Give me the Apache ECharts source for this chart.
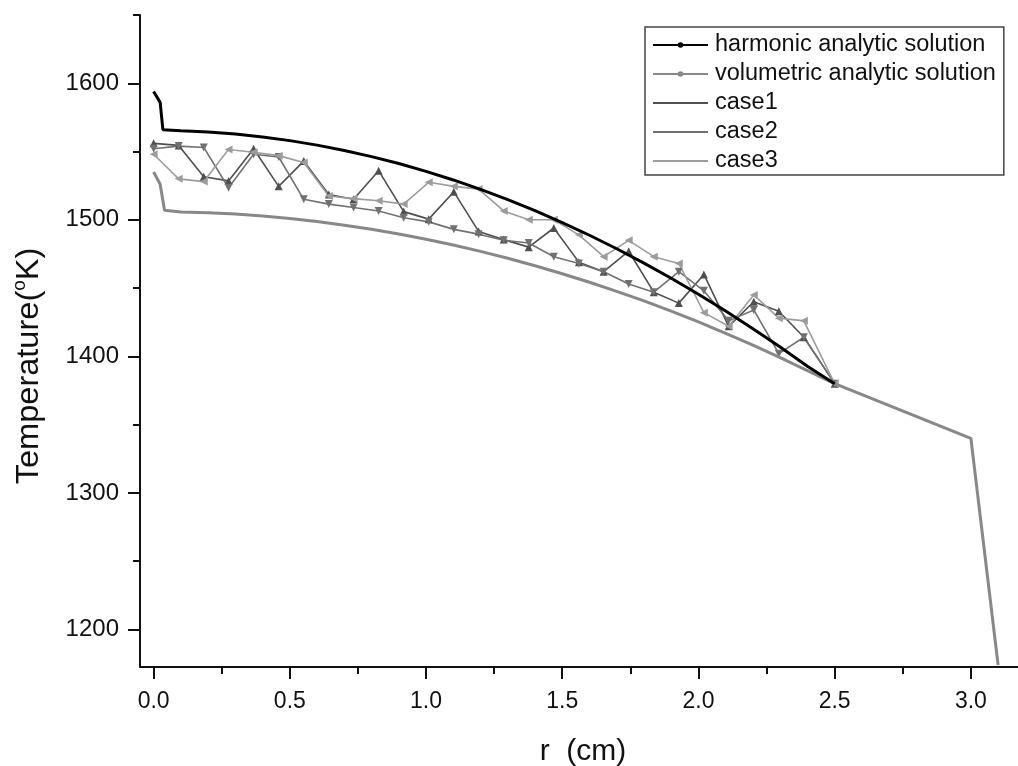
<!DOCTYPE html>
<html><head><meta charset="utf-8">
<script src="https://cdn.jsdelivr.net/npm/echarts@6/dist/echarts.min.js"></script>
<style>html,body{margin:0;padding:0;background:#fff}#c{width:1018px;height:766px}</style>
</head><body><div id="c"></div>
<script>
// ---- data ----
const harmR = [0, 0.024, 0.034, 0.1, 0.2, 0.3, 0.4, 0.5, 0.6, 0.7, 0.8, 0.9, 1.0, 1.1, 1.2, 1.3, 1.4, 1.5, 1.6, 1.7, 1.8, 1.9, 2.0, 2.1, 2.2, 2.3, 2.4, 2.5];
const harmT = [1594, 1586, 1566, 1565.2, 1564.3, 1562.8, 1560.7, 1558.0, 1554.7, 1550.8, 1546.3, 1541.2, 1535.5, 1529.2, 1522.3, 1514.8, 1506.7, 1498.0, 1488.7, 1478.8, 1468.3, 1457.2, 1445.5, 1433.2, 1420.3, 1406.8, 1392.7, 1380];
const volR = [0, 0.024, 0.04, 0.1, 0.2, 0.3, 0.4, 0.5, 0.6, 0.7, 0.8, 0.9, 1.0, 1.1, 1.2, 1.3, 1.4, 1.5, 1.6, 1.7, 1.8, 1.9, 2.0, 2.1, 2.2, 2.3, 2.4, 2.5, 3.0, 3.1];
const volT = [1535, 1526, 1507, 1505.8, 1505.2, 1504.2, 1502.8, 1501.0, 1498.7, 1496.1, 1493.1, 1489.6, 1485.8, 1481.6, 1476.9, 1471.9, 1466.4, 1460.5, 1454.3, 1447.6, 1440.6, 1433.1, 1425.2, 1416.9, 1408.2, 1399.1, 1389.6, 1380, 1340, 1174];
const caseR = [0, 0.092, 0.184, 0.275, 0.367, 0.459, 0.551, 0.643, 0.734, 0.826, 0.918, 1.010, 1.102, 1.193, 1.285, 1.377, 1.469, 1.561, 1.652, 1.744, 1.836, 1.928, 2.020, 2.111, 2.203, 2.295, 2.387, 2.5];
const case1T = [1556, 1554.5, 1531.5, 1528.5, 1552, 1524.5, 1543, 1518.5, 1515, 1536, 1506, 1500.5, 1520.5, 1491.5, 1485.5, 1480, 1494, 1469, 1462, 1477, 1447, 1439, 1460, 1422, 1440, 1433, 1414, 1380];
const case2T = [1552, 1554, 1553, 1523.5, 1548, 1546, 1515, 1511.5, 1509, 1506.5, 1501.5, 1498.5, 1493, 1489.5, 1485, 1483, 1473, 1468, 1462, 1453, 1447, 1462, 1448, 1426, 1434, 1402, 1414, 1380];
const case3T = [1548, 1530, 1528, 1551.5, 1549.5, 1547, 1542, 1517.5, 1515.5, 1514, 1511.5, 1527.5, 1524.5, 1522.5, 1506.5, 1500, 1500, 1489, 1473, 1485, 1473, 1468, 1432, 1422, 1445, 1428, 1426, 1380];
const xMajor = [0, 0.5, 1.0, 1.5, 2.0, 2.5, 3.0];
const xMinor = [0.25, 0.75, 1.25, 1.75, 2.25, 2.75];
const yMajor = [1200, 1300, 1400, 1500, 1600];
const yMinor = [1250, 1350, 1450, 1550, 1650];
const names = ['harmonic analytic solution', 'volumetric analytic solution', 'case1', 'case2', 'case3'];

const zip = (a, b) => a.map((v, i) => [v, b[i]]);
const X0 = -0.05, X1 = 3.173, Y0 = 1172.5, Y1 = 1650;
const FONT = '"Liberation Sans", Arial, sans-serif';

const chart = echarts.init(document.getElementById('c'), null, {renderer: 'canvas'});
const axisCommon = {type: 'value', splitLine: {show: false}};
chart.setOption({
  animation: false,
  backgroundColor: '#fff',
  grid: {left: 140, right: 0, top: 15, bottom: 99},
  xAxis: [
    Object.assign({}, axisCommon, {min: X0, max: X1, position: 'bottom',
      axisLine: {show: true, onZero: false, lineStyle: {color: '#111', width: 2}},
      axisTick: {show: true, customValues: xMajor, length: 12, lineStyle: {color: '#111', width: 2}},
      axisLabel: {customValues: xMajor, formatter: v => Number(v).toFixed(1), color: '#111', fontSize: 23, fontFamily: FONT, margin: 23}}),
    Object.assign({}, axisCommon, {min: X0, max: X1, position: 'bottom', offset: 0,
      axisLine: {show: false, onZero: false},
      axisTick: {show: true, customValues: xMinor, length: 7, lineStyle: {color: '#111', width: 2}},
      axisLabel: {show: false}})
  ],
  yAxis: [
    Object.assign({}, axisCommon, {min: Y0, max: Y1, position: 'left',
      axisLine: {show: true, onZero: false, lineStyle: {color: '#111', width: 2}},
      axisTick: {show: true, customValues: yMajor, length: 12, lineStyle: {color: '#111', width: 2}},
      axisLabel: {customValues: yMajor, formatter: v => String(Math.round(v)), color: '#111', fontSize: 24, fontFamily: FONT, margin: 21}}),
    Object.assign({}, axisCommon, {min: Y0, max: Y1, position: 'left', offset: 0,
      axisLine: {show: false, onZero: false},
      axisTick: {show: true, customValues: yMinor, length: 7, lineStyle: {color: '#111', width: 2}},
      axisLabel: {show: false}})
  ],
  legend: {
    orient: 'vertical', left: 645, top: 27,
    data: [
      {name: names[0]}, {name: names[1]},
      {name: names[2], itemStyle: {opacity: 0}},
      {name: names[3], itemStyle: {opacity: 0}},
      {name: names[4], itemStyle: {opacity: 0}}
    ],
    itemWidth: 55, itemHeight: 7, itemGap: 5,
    padding: [6, 8, 2, 7],
    borderColor: '#444', borderWidth: 1.5,
    textStyle: {fontSize: 23.5, fontFamily: FONT, color: '#111', lineHeight: 24, padding: [0, 0, 0, 2]}
  },
  graphic: [
    {type: 'text', x: 29, y: 366, rotation: Math.PI / 2, scaleX: 1.05,
      style: {text: '{a|Temperature(}{s|o}{a|K)}', align: 'center', verticalAlign: 'middle',
        rich: {a: {fontSize: 31, fontFamily: FONT, fill: '#111'}, s: {fontSize: 18, fontFamily: FONT, fill: '#111', padding: [0, 0, 17, 0]}}}},
    {type: 'text', x: 583, y: 752,
      style: {text: 'r  (cm)', fontSize: 30, fontFamily: FONT, fill: '#111', align: 'center', verticalAlign: 'middle'}}
  ],
  series: [
    {name: names[2], type: 'line', data: zip(caseR, case1T), z: 3, symbol: 'triangle', symbolSize: 8,
      itemStyle: {color: '#4f4f4f'}, lineStyle: {color: '#4f4f4f', width: 1.6}},
    {name: names[3], type: 'line', data: zip(caseR, case2T), z: 3, symbol: 'triangle', symbolRotate: 180, symbolSize: 8,
      itemStyle: {color: '#717171'}, lineStyle: {color: '#717171', width: 1.6}},
    {name: names[4], type: 'line', data: zip(caseR, case3T), z: 3, symbol: 'triangle', symbolRotate: 90, symbolSize: 8,
      itemStyle: {color: '#9c9c9c'}, lineStyle: {color: '#9c9c9c', width: 1.6}},
    {name: names[1], type: 'line', data: zip(volR, volT), z: 4, symbol: 'none',
      itemStyle: {color: '#888'}, lineStyle: {color: '#888', width: 3}},
    {name: names[0], type: 'line', data: zip(harmR, harmT), z: 5, symbol: 'none',
      itemStyle: {color: '#000'}, lineStyle: {color: '#000', width: 3}}
  ]
});
</script></body></html>
